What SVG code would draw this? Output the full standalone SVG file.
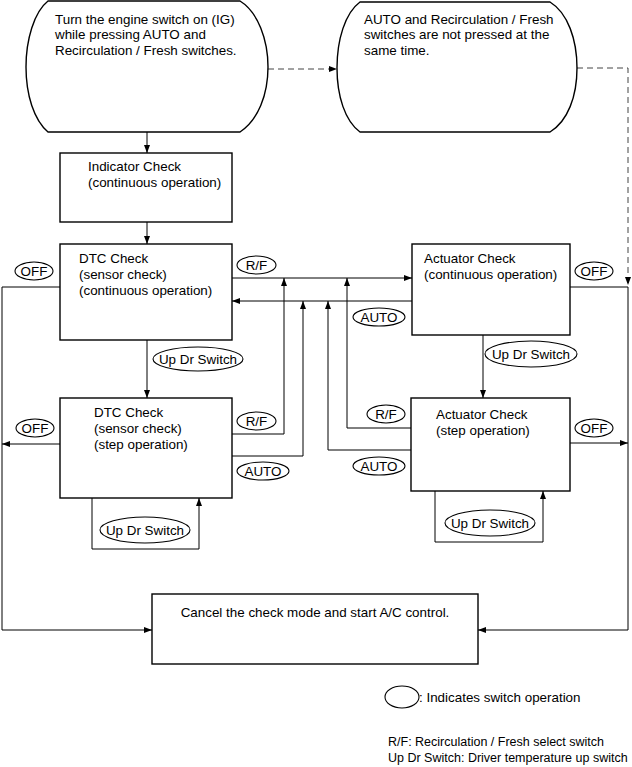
<svg xmlns="http://www.w3.org/2000/svg" width="632" height="767" viewBox="0 0 632 767">
<style>
text{font-family:"Liberation Sans",Arial,sans-serif;font-size:13.4px;fill:#000}
.box{fill:#fff;stroke:#000;stroke-width:1.4}
.sw{fill:#fff;stroke:#000;stroke-width:1.1}
.c{fill:none;stroke:#000;stroke-width:1}
.d{fill:none;stroke:#444;stroke-width:1;stroke-dasharray:6,4}
.lbl{text-anchor:middle}
.leg{font-size:12.5px}
</style>
<defs>
<marker id="a" markerWidth="8" markerHeight="6" refX="8" refY="3" orient="auto" markerUnits="userSpaceOnUse">
<path d="M0,0 L8,3 L0,6 Z" fill="#000"/>
</marker>
</defs>
<rect width="632" height="767" fill="#fff"/>
<g id="connectors">
<path class="c" d="M147,132 V153" marker-end="url(#a)"/>
<path class="c" d="M147,222 V244" marker-end="url(#a)"/>
<path class="c" d="M147,340 V398" marker-end="url(#a)"/>
<path class="c" d="M483,335 V398" marker-end="url(#a)"/>
<path class="d" d="M268,69 H337" marker-end="url(#a)"/>
<path class="d" d="M577,68 H628 V285" marker-end="url(#a)"/>
<path class="c" d="M232,278 H412" marker-end="url(#a)"/>
<path class="c" d="M412,301 H232" marker-end="url(#a)"/>
<path class="c" d="M232,434 H284 V278" marker-end="url(#a)"/>
<path class="c" d="M232,456 H303 V301" marker-end="url(#a)"/>
<path class="c" d="M411,428 H347 V278" marker-end="url(#a)"/>
<path class="c" d="M411,450 H328 V301" marker-end="url(#a)"/>
<path class="c" d="M60,287 H2 V630 H152" marker-end="url(#a)"/>
<path class="c" d="M60,444 H2" marker-end="url(#a)"/>
<path class="c" d="M570,287 H628 V630 H478" marker-end="url(#a)"/>
<path class="c" d="M570,443 H628" marker-end="url(#a)"/>
<path class="c" d="M92,498 V549 H199 V498" marker-end="url(#a)"/>
<path class="c" d="M435,491 V542 H543 V491" marker-end="url(#a)"/>
</g>
<g id="start">
<path class="box" d="M48,1 H240 C258,12 268,40 268,67 C268,95 258,120 240,132 H48 C34,120 26,95 26,67 C26,40 34,12 48,1 Z"/>
<text x="55" y="23.5">Turn the engine switch on (IG)</text>
<text x="55" y="39">while pressing AUTO and</text>
<text x="55" y="54.5">Recirculation / Fresh switches.</text>
</g>
<g id="notPressed">
<path class="box" d="M360,2 H550 C568,13 577,40 577,68 C577,96 568,121 550,132 H360 C345,121 337,96 337,68 C337,40 345,13 360,2 Z"/>
<text x="364" y="23.5">AUTO and Recirculation / Fresh</text>
<text x="364" y="39">switches are not pressed at the</text>
<text x="364" y="54.5">same time.</text>
</g>
<g id="indicator">
<rect class="box" x="60" y="153" width="172" height="69"/>
<text x="88" y="171">Indicator Check</text>
<text x="88" y="187">(continuous operation)</text>
</g>
<g id="dtcCont">
<rect class="box" x="60" y="244" width="172" height="96"/>
<text x="79" y="263">DTC Check</text>
<text x="79" y="279">(sensor check)</text>
<text x="79" y="295">(continuous operation)</text>
</g>
<g id="dtcStep">
<rect class="box" x="60" y="398" width="172" height="100"/>
<text x="94" y="417">DTC Check</text>
<text x="94" y="433">(sensor check)</text>
<text x="94" y="449">(step operation)</text>
</g>
<g id="actCont">
<rect class="box" x="412" y="244" width="158" height="91"/>
<text x="424" y="263">Actuator Check</text>
<text x="424" y="279">(continuous operation)</text>
</g>
<g id="actStep">
<rect class="box" x="411" y="398" width="159" height="93"/>
<text x="436" y="419">Actuator Check</text>
<text x="436" y="435">(step operation)</text>
</g>
<g id="cancel">
<rect class="box" x="152" y="594" width="326" height="70"/>
<text x="315" y="617" class="lbl">Cancel the check mode and start A/C control.</text>
</g>
<g id="switches">
<ellipse class="sw" cx="34" cy="271" rx="19" ry="9"/><text class="lbl" x="34" y="275.5">OFF</text>
<ellipse class="sw" cx="256.5" cy="265" rx="19.5" ry="9"/><text class="lbl" x="256.5" y="269.5">R/F</text>
<ellipse class="sw" cx="198" cy="359" rx="45" ry="12"/><text class="lbl" x="198" y="363.5">Up Dr Switch</text>
<ellipse class="sw" cx="594" cy="271" rx="19" ry="9"/><text class="lbl" x="594" y="275.5">OFF</text>
<ellipse class="sw" cx="379" cy="317" rx="26" ry="9"/><text class="lbl" x="379" y="321.5">AUTO</text>
<ellipse class="sw" cx="531" cy="354" rx="46" ry="13"/><text class="lbl" x="531" y="358.5">Up Dr Switch</text>
<ellipse class="sw" cx="35" cy="428" rx="19" ry="9"/><text class="lbl" x="35" y="432.5">OFF</text>
<ellipse class="sw" cx="256.5" cy="421" rx="19.5" ry="9"/><text class="lbl" x="256.5" y="425.5">R/F</text>
<ellipse class="sw" cx="263" cy="471" rx="26" ry="9"/><text class="lbl" x="263" y="475.5">AUTO</text>
<ellipse class="sw" cx="145" cy="530" rx="45" ry="13"/><text class="lbl" x="145" y="534.5">Up Dr Switch</text>
<ellipse class="sw" cx="386" cy="414" rx="19" ry="9"/><text class="lbl" x="386" y="418.5">R/F</text>
<ellipse class="sw" cx="379" cy="466" rx="26" ry="9"/><text class="lbl" x="379" y="470.5">AUTO</text>
<ellipse class="sw" cx="594" cy="428" rx="19" ry="9"/><text class="lbl" x="594" y="432.5">OFF</text>
<ellipse class="sw" cx="490" cy="523" rx="45" ry="13"/><text class="lbl" x="490" y="527.5">Up Dr Switch</text>
</g>
<g id="legend">
<ellipse class="sw" cx="402" cy="697" rx="17" ry="11"/>
<text x="419" y="702">: Indicates switch operation</text>
<text class="leg" x="388" y="746">R/F: Recirculation / Fresh select switch</text>
<text class="leg" x="388" y="762">Up Dr Switch: Driver temperature up switch</text>
</g>
</svg>
